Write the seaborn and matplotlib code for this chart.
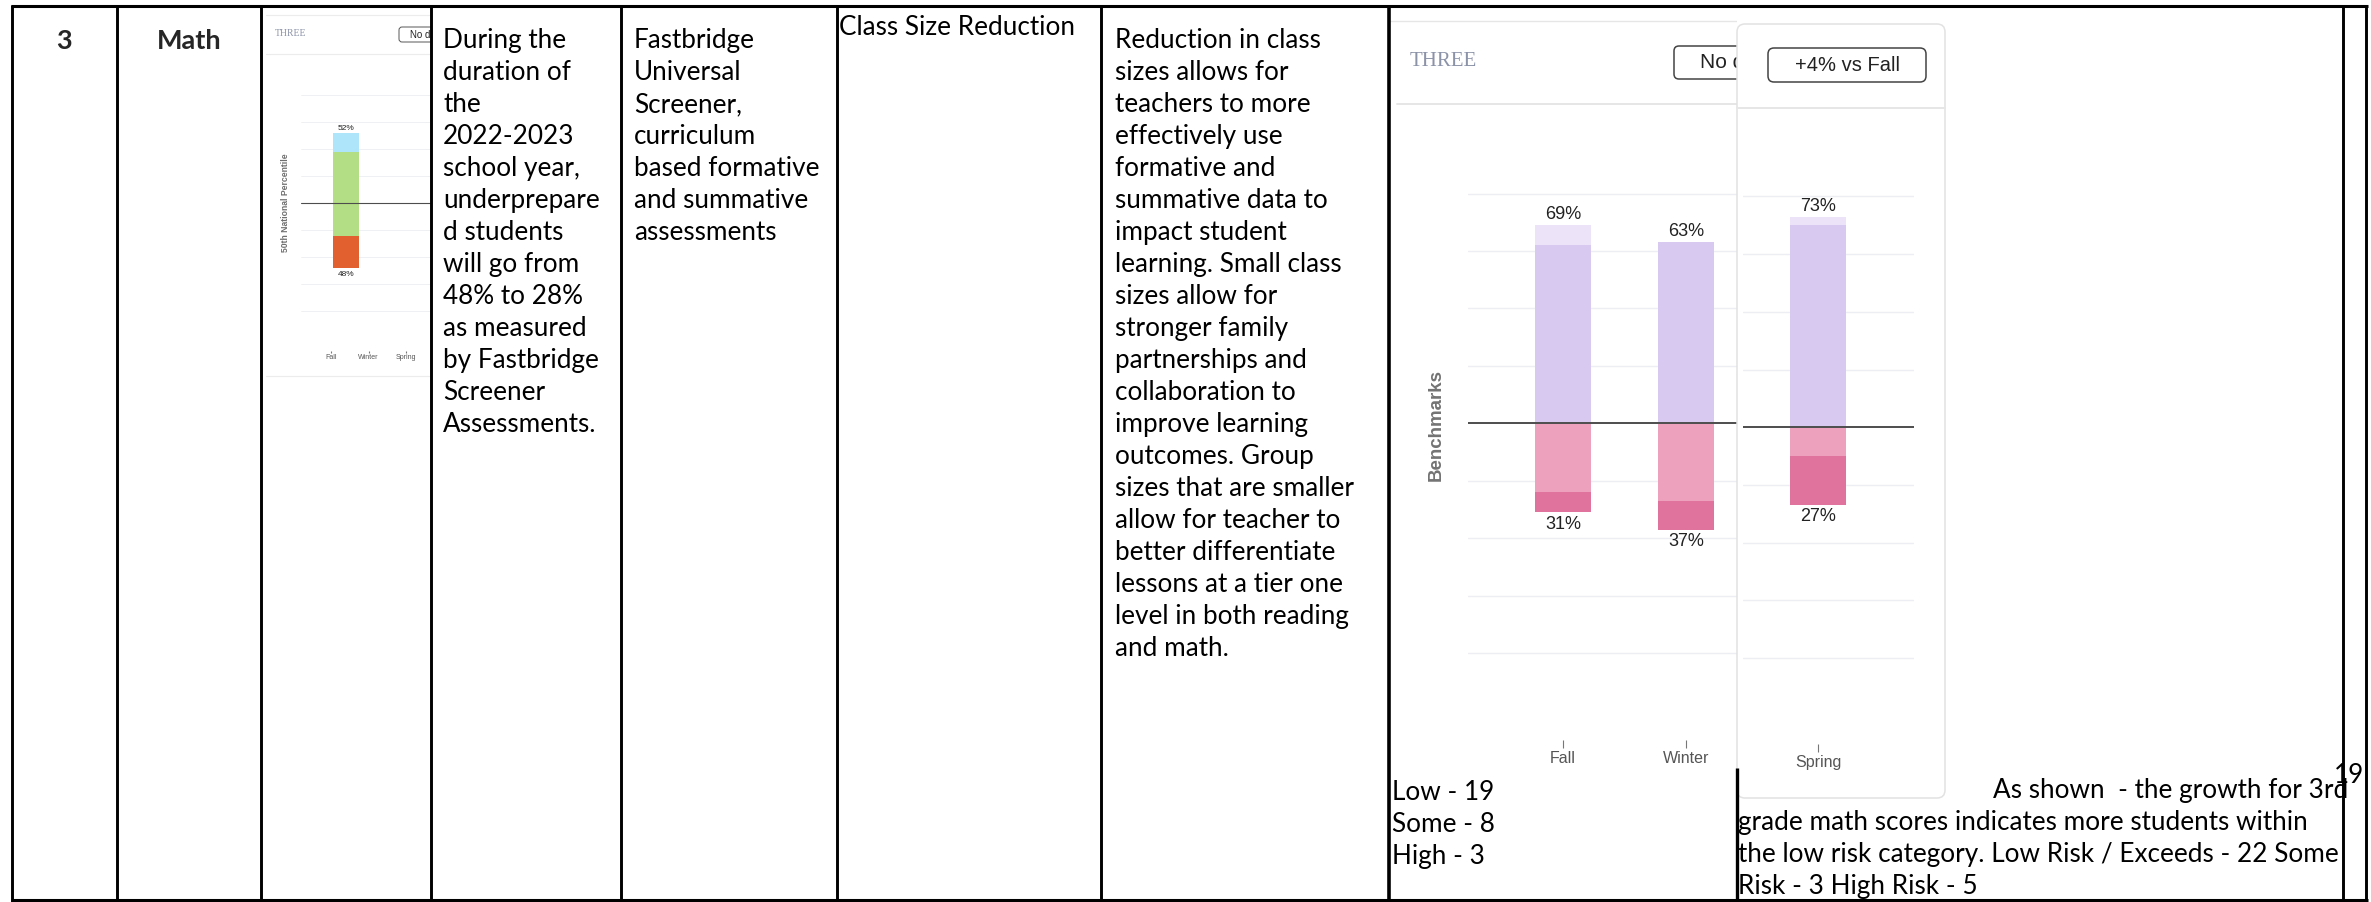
import matplotlib
matplotlib.use("Agg")
import matplotlib.pyplot as plt
import seaborn as sns
from matplotlib.patches import FancyBboxPatch

sns.set_theme(style="white")
plt.rcParams["font.family"] = ["Lato", "DejaVu Sans"]

# ---- chart data (percent of students) ----
mid_seasons = ["Fall", "Winter"]
mid_exceed = [7, 0]
mid_low = [62, 63]
mid_some = [24, 27]
mid_high = [7, 10]

spring_seasons = ["Spring"]
spring_exceed = [3]
spring_low = [70]
spring_some = [10]
spring_high = [17]

small_seasons = ["Fall"]
small_tick_labels = ["Fall", "Winter", "Spring"]
small_blue = [14]
small_green_up = [38]
small_green_down = [24]
small_red = [24]

grid_levels = [-80, -60, -40, -20, 20, 40, 60, 80]

# ---- table text ----
grade = "3"
subject = "Math"
goal_lines = ["During the", "duration of", "the", "2022-2023", "school year,",
              "underprepare", "d students", "will go from", "48% to 28%",
              "as measured", "by Fastbridge", "Screener", "Assessments."]
measure_lines = ["Fastbridge", "Universal", "Screener,", "curriculum",
                 "based formative", "and summative", "assessments"]
strategy = "Class Size Reduction"
rationale_lines = ["Reduction in class", "sizes allows for", "teachers to more",
                   "effectively use", "formative and", "summative data to",
                   "impact student", "learning. Small class", "sizes allow for",
                   "stronger family", "partnerships and", "collaboration to",
                   "improve learning", "outcomes. Group", "sizes that are smaller",
                   "allow for teacher to", "better differentiate",
                   "lessons at a tier one", "level in both reading", "and math."]
fall_counts = ["Low - 19", "Some - 8", "High - 3"]
result_first = "As shown  - the growth for 3rd"
result_lines = ["grade math scores indicates more students within",
                "the low risk category. Low Risk / Exceeds - 22 Some",
                "Risk - 3 High Risk - 5"]
page_no = "19"

W, H = 2371, 902
fig = plt.figure(figsize=(W / 100, H / 100), dpi=100)


def px_axes(x0, y0, x1, y1, z):
    return fig.add_axes([x0 / W, 1 - y1 / H, (x1 - x0) / W, (y1 - y0) / H], zorder=z)


def px_frame(ax, x0, y0, x1, y1):
    ax.set_xlim(x0, x1)
    ax.set_ylim(y1, y0)
    ax.axis("off")


def stacked(ax, cats, exceed, low, some, high, colors, width):
    up_total = [e + l for e, l in zip(exceed, low)]
    down_total = [-(s + h) for s, h in zip(some, high)]
    kw = dict(ax=ax, width=width, saturation=1, errorbar=None, linewidth=0)
    sns.barplot(x=cats, y=up_total, color=colors[0], **kw)
    sns.barplot(x=cats, y=low, color=colors[1], **kw)
    sns.barplot(x=cats, y=down_total, color=colors[3], **kw)
    sns.barplot(x=cats, y=[-s for s in some], color=colors[2], **kw)
    return up_total, down_total


def style_chart(ax, xlim, ylim, tick_len, tick_size, grid_lw, mid_lw):
    ax.set_xlim(*xlim)
    ax.set_ylim(*ylim)
    ax.set_yticks(grid_levels)
    ax.yaxis.grid(True, color="#EDEEF3", lw=grid_lw)
    ax.xaxis.grid(False)
    ax.set_axisbelow(True)
    ax.tick_params(axis="y", left=False, labelleft=False)
    ax.tick_params(axis="x", bottom=True, length=tick_len, width=0.8, color="#777777",
                   labelsize=tick_size, labelcolor="#555555", pad=2)
    for lab in ax.get_xticklabels():
        lab.set_fontfamily("Liberation Sans")
    for s in ax.spines.values():
        s.set_visible(False)
    ax.set_xlabel("")
    ax.set_ylabel("")
    ax.patch.set_alpha(0)
    ax.axhline(0, color="#4D4D4D", lw=mid_lw, zorder=3)


def pct_labels(ax, ups, downs, size, off_up, off_dn):
    for i, (u, d) in enumerate(zip(ups, downs)):
        ax.annotate(f"{u}%", (i, u), xytext=(0, off_up), textcoords="offset points",
                    ha="center", va="center", fontsize=size, color="#222222",
                    family="Liberation Sans")
        ax.annotate(f"{-d}%", (i, d), xytext=(0, -off_dn), textcoords="offset points",
                    ha="center", va="center", fontsize=size, color="#222222",
                    family="Liberation Sans")


pink_set = ["#ECE3F8", "#D8C9F0", "#EEA1BC", "#E0739E"]
small_set = ["#AEE5FA", "#B4DE85", "#B4DE85", "#E2602F"]

# ---- small pasted chart (column 3) ----
card_s = px_axes(262, 10, 431, 380, 1)
px_frame(card_s, 262, 10, 431, 380)
for yy in (15, 54, 376):
    card_s.plot([266, 431], [yy, yy], color="#ECECEC", lw=0.8)
card_s.text(275, 34, "THREE", family="Liberation Serif", fontsize=7, color="#8C93A8",
            va="center")
card_s.add_patch(FancyBboxPatch((399, 27), 60, 15, boxstyle="round,pad=0,rounding_size=3",
                                fc="white", ec="#555555", lw=0.7))
card_s.text(410, 35, "No data", family="Liberation Sans", fontsize=7, color="#222222",
            va="center", clip_on=True)

ax_s = px_axes(301, 75, 432, 351, 2)
ups, downs = stacked(ax_s, small_seasons, small_blue, small_green_up, small_green_down,
                     small_red, small_set, 0.69)
style_chart(ax_s, (-1.194, 2.281), (-109.4, 95.0), 1.5, 5, 0.6, 0.8)
ax_s.set_xticks([p - 0.4 for p in range(len(small_tick_labels))], small_tick_labels)
for lab in ax_s.get_xticklabels():
    lab.set_fontfamily("Liberation Sans")
ax_s.tick_params(axis="x", pad=1)
pct_labels(ax_s, ups, downs, 6, 3.6, 4.3)
ax_s.text((286 - 301) / 131, (351 - 203) / 276, "50th National Percentile",
          transform=ax_s.transAxes, rotation=90, ha="center", va="center",
          fontsize=6.2, fontweight="bold", color="#6E6E6E", family="Liberation Sans")

# ---- large pasted chart: Fall / Winter ----
card_1 = px_axes(1390, 15, 1737, 770, 1)
px_frame(card_1, 1390, 15, 1737, 770)
card_1.plot([1390, 1737], [21, 21], color="#E6E6E6", lw=1)
card_1.plot([1397, 1737], [104, 104], color="#E6E6E6", lw=1.4)
card_1.text(1410, 62, "THREE", family="Liberation Serif", fontsize=15, color="#8C93A8",
            va="center")
card_1.add_patch(FancyBboxPatch((1674, 46), 140, 33, boxstyle="round,pad=0,rounding_size=5",
                                fc="white", ec="#444444", lw=1.1))
card_1.text(1700, 63, "No data", family="Liberation Sans", fontsize=15, color="#222222",
            va="center", clip_on=True)

ax_1 = px_axes(1468, 150, 1737, 740, 2)
ups, downs = stacked(ax_1, mid_seasons, mid_exceed, mid_low, mid_some, mid_high,
                     pink_set, 0.45)
style_chart(ax_1, (-0.772, 1.415), (-110.3, 95.2), 5.8, 11.5, 1.0, 1.4)
pct_labels(ax_1, ups, downs, 13, 8, 8.6)
ax_1.text((1436 - 1468) / 269, (740 - 425) / 590, "Benchmarks", transform=ax_1.transAxes,
          rotation=90, ha="center", va="center", fontsize=13.5, fontweight="bold",
          color="#737373", family="Liberation Sans")

# ---- large pasted chart: Spring panel ----
panel = px_axes(1735, 18, 1950, 802, 3)
px_frame(panel, 1735, 18, 1950, 802)
panel.add_patch(FancyBboxPatch((1737, 24), 208, 774, boxstyle="round,pad=0,rounding_size=8",
                               fc="white", ec="#E2E2E2", lw=1.1))
panel.plot([1737, 1945], [108, 108], color="#E6E6E6", lw=1.4)
panel.add_patch(FancyBboxPatch((1768, 48), 158, 34, boxstyle="round,pad=0,rounding_size=6",
                               fc="white", ec="#444444", lw=1.1))
panel.text(1847, 65, "+4% vs Fall", family="Liberation Sans", fontsize=14.5, color="#222222",
           ha="center", va="center")

ax_2 = px_axes(1743, 150, 1914, 744, 4)
ups, downs = stacked(ax_2, spring_seasons, spring_exceed, spring_low, spring_some,
                     spring_high, pink_set, 0.455)
style_chart(ax_2, (-0.61, 0.78), (-109.8, 96.1), 5.8, 11.5, 1.0, 1.4)
pct_labels(ax_2, ups, downs, 13, 7.6, 8.2)

# ---- table grid and text (overlay) ----
top = px_axes(0, 0, W, H, 10)
px_frame(top, 0, 0, W, H)
line_kw = dict(color="black", solid_capstyle="butt")
top.plot([11, 2368], [6, 6], lw=2.2, **line_kw)
top.plot([11, 2368], [900, 900], lw=2.2, **line_kw)
for xx in (12, 117, 261, 431, 621, 837, 1101, 2343, 2366):
    top.plot([xx, xx], [5, 902], lw=2.1, **line_kw)
top.plot([1389, 1389], [5, 902], lw=2.6, **line_kw)
top.plot([1737, 1737], [768, 902], lw=2.4, **line_kw)

body = dict(fontsize=18.8, color="black", va="baseline", ha="left")


def put_lines(x, y0, lines, step=32):
    for i, s in enumerate(lines):
        top.text(x, y0 + i * step, s, **body)


top.text(64, 49, grade, fontsize=19.5, fontweight="bold", ha="center", va="baseline")
top.text(189, 49, subject, fontsize=19.5, fontweight="bold", ha="center", va="baseline")
put_lines(443, 48, goal_lines)
put_lines(634, 48, measure_lines)
top.text(839, 35, strategy, **body)
put_lines(1115, 48, rationale_lines)
put_lines(1392, 800, fall_counts)
top.text(1993, 798, result_first, **body)
put_lines(1738, 830, result_lines)
top.text(2334, 783, page_no, **body)

fig.savefig("out.png", dpi=100)
